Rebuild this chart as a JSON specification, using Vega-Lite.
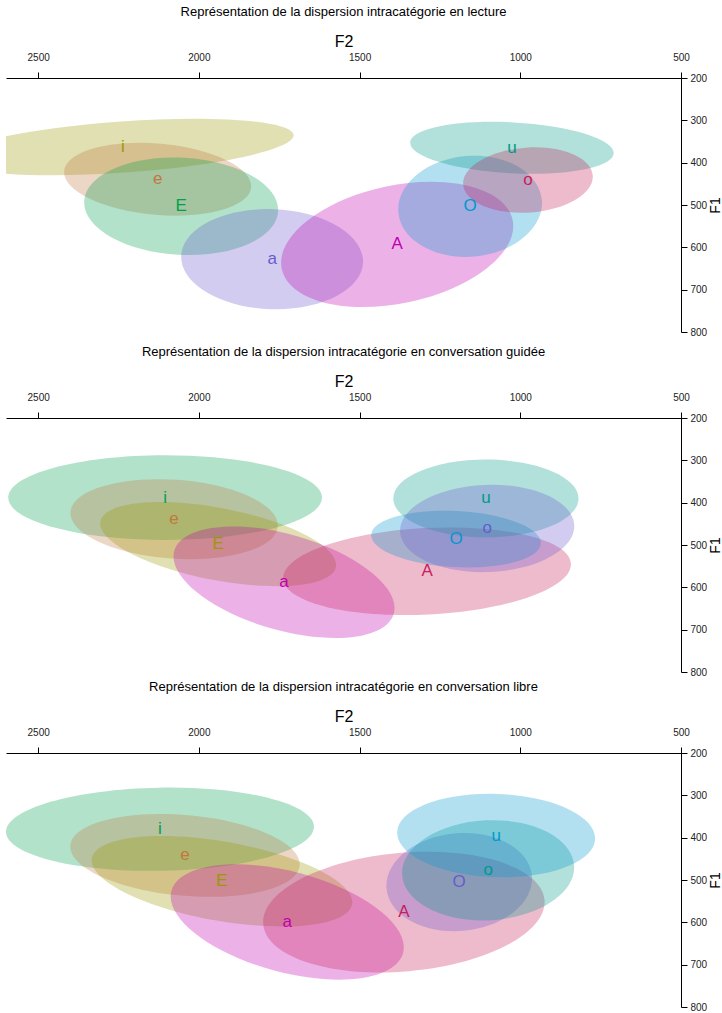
{
  "$schema": "https://vega.github.io/schema/vega-lite/v6.json",
  "background": "white",
  "padding": {"left": 6, "top": 6, "right": 0, "bottom": 0},
  "config": {
    "view": {"stroke": null},
    "font": "Liberation Sans",
    "title": {"fontSize": 13, "fontWeight": "normal", "font": "Liberation Sans", "anchor": "middle", "frame": "group", "offset": 14, "color": "#000"},
    "axis": {"grid": false, "domainColor": "#000", "tickColor": "#000", "labelColor": "#222", "titleColor": "#000", "labelFont": "Liberation Sans", "titleFont": "Liberation Sans", "labelFontSize": 10, "titleFontWeight": "normal", "tickSize": 6, "domainWidth": 1, "tickWidth": 1, "labelFlush": false, "labelOverlap": false, "format": "d"}
  },
  "data": {"values": [
    {"panel": "lecture", "voyelle": "i", "F2": 2236, "F1": 363, "demiAxe": 532, "ratio": 0.15, "angle": -4},
    {"panel": "lecture", "voyelle": "e", "F2": 2128, "F1": 439, "demiAxe": 292, "ratio": 0.38, "angle": 5},
    {"panel": "lecture", "voyelle": "E", "F2": 2055, "F1": 503, "demiAxe": 302, "ratio": 0.5, "angle": 3},
    {"panel": "lecture", "voyelle": "a", "F2": 1772, "F1": 628, "demiAxe": 283, "ratio": 0.55, "angle": 2},
    {"panel": "lecture", "voyelle": "A", "F2": 1383, "F1": 593, "demiAxe": 367, "ratio": 0.5, "angle": -12},
    {"panel": "lecture", "voyelle": "O", "F2": 1156, "F1": 503, "demiAxe": 224, "ratio": 0.7, "angle": -5},
    {"panel": "lecture", "voyelle": "u", "F2": 1026, "F1": 365, "demiAxe": 317, "ratio": 0.25, "angle": 3},
    {"panel": "lecture", "voyelle": "o", "F2": 976, "F1": 441, "demiAxe": 202, "ratio": 0.5, "angle": -4},
    {"panel": "guidee", "voyelle": "i", "F2": 2105, "F1": 388, "demiAxe": 488, "ratio": 0.27, "angle": 0},
    {"panel": "guidee", "voyelle": "e", "F2": 2077, "F1": 439, "demiAxe": 323, "ratio": 0.38, "angle": 4},
    {"panel": "guidee", "voyelle": "E", "F2": 1940, "F1": 498, "demiAxe": 373, "ratio": 0.3, "angle": 11},
    {"panel": "guidee", "voyelle": "a", "F2": 1735, "F1": 588, "demiAxe": 355, "ratio": 0.42, "angle": 16},
    {"panel": "guidee", "voyelle": "A", "F2": 1290, "F1": 562, "demiAxe": 448, "ratio": 0.3, "angle": -3},
    {"panel": "guidee", "voyelle": "O", "F2": 1200, "F1": 486, "demiAxe": 264, "ratio": 0.33, "angle": 3},
    {"panel": "guidee", "voyelle": "u", "F2": 1107, "F1": 390, "demiAxe": 288, "ratio": 0.42, "angle": 0},
    {"panel": "guidee", "voyelle": "o", "F2": 1103, "F1": 461, "demiAxe": 271, "ratio": 0.5, "angle": -2},
    {"panel": "libre", "voyelle": "i", "F2": 2121, "F1": 380, "demiAxe": 479, "ratio": 0.27, "angle": -1},
    {"panel": "libre", "voyelle": "e", "F2": 2043, "F1": 442, "demiAxe": 358, "ratio": 0.35, "angle": 5},
    {"panel": "libre", "voyelle": "E", "F2": 1928, "F1": 503, "demiAxe": 411, "ratio": 0.3, "angle": 10},
    {"panel": "libre", "voyelle": "a", "F2": 1725, "F1": 599, "demiAxe": 373, "ratio": 0.42, "angle": 15},
    {"panel": "libre", "voyelle": "A", "F2": 1362, "F1": 576, "demiAxe": 439, "ratio": 0.42, "angle": -5},
    {"panel": "libre", "voyelle": "O", "F2": 1190, "F1": 505, "demiAxe": 227, "ratio": 0.67, "angle": -5},
    {"panel": "libre", "voyelle": "o", "F2": 1100, "F1": 477, "demiAxe": 268, "ratio": 0.58, "angle": -3},
    {"panel": "libre", "voyelle": "u", "F2": 1075, "F1": 395, "demiAxe": 308, "ratio": 0.42, "angle": 2}
  ]},
  "resolve": {"scale": {"color": "independent"}},
  "spacing": 9,
  "vconcat": [
    {
      "title": "Représentation de la dispersion intracatégorie en lecture",
      "width": 675, "height": 254,
      "transform": [{"filter": "datum.panel === 'lecture'"}],
      "encoding": {
        "x": {"field": "F2", "type": "quantitative", "scale": {"domain": [500, 2600], "reverse": true, "nice": false, "zero": false}, "axis": {"orient": "top", "values": [500, 1000, 1500, 2000, 2500], "title": "F2", "labelPadding": 10, "titlePadding": 3, "titleFontSize": 16}},
        "y": {"field": "F1", "type": "quantitative", "scale": {"domain": [200, 800], "reverse": true, "nice": false, "zero": false}, "axis": {"orient": "right", "values": [200, 300, 400, 500, 600, 700, 800], "title": "F1", "titleAngle": 270, "titleBaseline": "top", "labelPadding": 3, "titlePadding": 2, "titleFontSize": 14}},
        "color": {"field": "voyelle", "type": "nominal", "scale": {"domain": ["i", "e", "E", "a", "A", "O", "u", "o"], "range": ["#999900", "#C07840", "#00A050", "#6A5ACD", "#C000B0", "#0099CC", "#009988", "#C81E5A"]}, "legend": null}
      },
      "layer": [
        {"mark": {"type": "point", "filled": true, "opacity": 1, "fillOpacity": 0.3, "strokeWidth": 0, "clip": true},
         "encoding": {
           "shape": {"field": "ratio", "type": "nominal", "legend": null, "scale": {"domain": [0.15, 0.25, 0.27, 0.3, 0.33, 0.35, 0.38, 0.42, 0.5, 0.55, 0.58, 0.67, 0.7], "range": [
             "M1,0C1,0.0828 0.5523,0.15 0,0.15C-0.5523,0.15 -1,0.0828 -1,0C-1,-0.0828 -0.5523,-0.15 0,-0.15C0.5523,-0.15 1,-0.0828 1,0Z",
             "M1,0C1,0.1381 0.5523,0.25 0,0.25C-0.5523,0.25 -1,0.1381 -1,0C-1,-0.1381 -0.5523,-0.25 0,-0.25C0.5523,-0.25 1,-0.1381 1,0Z",
             "M1,0C1,0.1491 0.5523,0.27 0,0.27C-0.5523,0.27 -1,0.1491 -1,0C-1,-0.1491 -0.5523,-0.27 0,-0.27C0.5523,-0.27 1,-0.1491 1,0Z",
             "M1,0C1,0.1657 0.5523,0.3 0,0.3C-0.5523,0.3 -1,0.1657 -1,0C-1,-0.1657 -0.5523,-0.3 0,-0.3C0.5523,-0.3 1,-0.1657 1,0Z",
             "M1,0C1,0.1823 0.5523,0.33 0,0.33C-0.5523,0.33 -1,0.1823 -1,0C-1,-0.1823 -0.5523,-0.33 0,-0.33C0.5523,-0.33 1,-0.1823 1,0Z",
             "M1,0C1,0.1933 0.5523,0.35 0,0.35C-0.5523,0.35 -1,0.1933 -1,0C-1,-0.1933 -0.5523,-0.35 0,-0.35C0.5523,-0.35 1,-0.1933 1,0Z",
             "M1,0C1,0.2099 0.5523,0.38 0,0.38C-0.5523,0.38 -1,0.2099 -1,0C-1,-0.2099 -0.5523,-0.38 0,-0.38C0.5523,-0.38 1,-0.2099 1,0Z",
             "M1,0C1,0.2320 0.5523,0.42 0,0.42C-0.5523,0.42 -1,0.2320 -1,0C-1,-0.2320 -0.5523,-0.42 0,-0.42C0.5523,-0.42 1,-0.2320 1,0Z",
             "M1,0C1,0.2762 0.5523,0.5 0,0.5C-0.5523,0.5 -1,0.2762 -1,0C-1,-0.2762 -0.5523,-0.5 0,-0.5C0.5523,-0.5 1,-0.2762 1,0Z",
             "M1,0C1,0.3038 0.5523,0.55 0,0.55C-0.5523,0.55 -1,0.3038 -1,0C-1,-0.3038 -0.5523,-0.55 0,-0.55C0.5523,-0.55 1,-0.3038 1,0Z",
             "M1,0C1,0.3203 0.5523,0.58 0,0.58C-0.5523,0.58 -1,0.3203 -1,0C-1,-0.3203 -0.5523,-0.58 0,-0.58C0.5523,-0.58 1,-0.3203 1,0Z",
             "M1,0C1,0.3700 0.5523,0.67 0,0.67C-0.5523,0.67 -1,0.3700 -1,0C-1,-0.3700 -0.5523,-0.67 0,-0.67C0.5523,-0.67 1,-0.3700 1,0Z",
             "M1,0C1,0.3866 0.5523,0.7 0,0.7C-0.5523,0.7 -1,0.3866 -1,0C-1,-0.3866 -0.5523,-0.7 0,-0.7C0.5523,-0.7 1,-0.3866 1,0Z"
           ]}},
           "size": {"field": "demiAxe", "type": "quantitative", "legend": null, "scale": {"type": "pow", "exponent": 2, "domain": [0, 1000], "range": [0, 413449]}},
           "angle": {"field": "angle", "type": "quantitative", "scale": null}
         }},
        {"mark": {"type": "text", "fontSize": 17, "font": "Liberation Sans", "baseline": "middle", "align": "center"},
         "encoding": {"text": {"field": "voyelle"}}}
      ]
    },
    {
      "spacing": 4,
      "resolve": {"scale": {"color": "independent"}},
      "vconcat": [
        {
          "title": "Représentation de la dispersion intracatégorie en conversation guidée",
          "width": 675, "height": 254,
          "transform": [{"filter": "datum.panel === 'guidee'"}],
          "encoding": {
            "x": {"field": "F2", "type": "quantitative", "scale": {"domain": [500, 2600], "reverse": true, "nice": false, "zero": false}, "axis": {"orient": "top", "values": [500, 1000, 1500, 2000, 2500], "title": "F2", "labelPadding": 10, "titlePadding": 3, "titleFontSize": 16}},
            "y": {"field": "F1", "type": "quantitative", "scale": {"domain": [200, 800], "reverse": true, "nice": false, "zero": false}, "axis": {"orient": "right", "values": [200, 300, 400, 500, 600, 700, 800], "title": "F1", "titleAngle": 270, "titleBaseline": "top", "labelPadding": 3, "titlePadding": 2, "titleFontSize": 14}},
            "color": {"field": "voyelle", "type": "nominal", "scale": {"domain": ["i", "e", "E", "a", "A", "O", "u", "o"], "range": ["#00A050", "#C07840", "#999900", "#C000B0", "#C81E5A", "#0099CC", "#009988", "#6A5ACD"]}, "legend": null}
          },
          "layer": [
            {"mark": {"type": "point", "filled": true, "opacity": 1, "fillOpacity": 0.3, "strokeWidth": 0, "clip": true},
             "encoding": {
               "shape": {"field": "ratio", "type": "nominal", "legend": null, "scale": {"domain": [0.15, 0.25, 0.27, 0.3, 0.33, 0.35, 0.38, 0.42, 0.5, 0.55, 0.58, 0.67, 0.7], "range": [
                 "M1,0C1,0.0828 0.5523,0.15 0,0.15C-0.5523,0.15 -1,0.0828 -1,0C-1,-0.0828 -0.5523,-0.15 0,-0.15C0.5523,-0.15 1,-0.0828 1,0Z",
                 "M1,0C1,0.1381 0.5523,0.25 0,0.25C-0.5523,0.25 -1,0.1381 -1,0C-1,-0.1381 -0.5523,-0.25 0,-0.25C0.5523,-0.25 1,-0.1381 1,0Z",
                 "M1,0C1,0.1491 0.5523,0.27 0,0.27C-0.5523,0.27 -1,0.1491 -1,0C-1,-0.1491 -0.5523,-0.27 0,-0.27C0.5523,-0.27 1,-0.1491 1,0Z",
                 "M1,0C1,0.1657 0.5523,0.3 0,0.3C-0.5523,0.3 -1,0.1657 -1,0C-1,-0.1657 -0.5523,-0.3 0,-0.3C0.5523,-0.3 1,-0.1657 1,0Z",
                 "M1,0C1,0.1823 0.5523,0.33 0,0.33C-0.5523,0.33 -1,0.1823 -1,0C-1,-0.1823 -0.5523,-0.33 0,-0.33C0.5523,-0.33 1,-0.1823 1,0Z",
                 "M1,0C1,0.1933 0.5523,0.35 0,0.35C-0.5523,0.35 -1,0.1933 -1,0C-1,-0.1933 -0.5523,-0.35 0,-0.35C0.5523,-0.35 1,-0.1933 1,0Z",
                 "M1,0C1,0.2099 0.5523,0.38 0,0.38C-0.5523,0.38 -1,0.2099 -1,0C-1,-0.2099 -0.5523,-0.38 0,-0.38C0.5523,-0.38 1,-0.2099 1,0Z",
                 "M1,0C1,0.2320 0.5523,0.42 0,0.42C-0.5523,0.42 -1,0.2320 -1,0C-1,-0.2320 -0.5523,-0.42 0,-0.42C0.5523,-0.42 1,-0.2320 1,0Z",
                 "M1,0C1,0.2762 0.5523,0.5 0,0.5C-0.5523,0.5 -1,0.2762 -1,0C-1,-0.2762 -0.5523,-0.5 0,-0.5C0.5523,-0.5 1,-0.2762 1,0Z",
                 "M1,0C1,0.3038 0.5523,0.55 0,0.55C-0.5523,0.55 -1,0.3038 -1,0C-1,-0.3038 -0.5523,-0.55 0,-0.55C0.5523,-0.55 1,-0.3038 1,0Z",
                 "M1,0C1,0.3203 0.5523,0.58 0,0.58C-0.5523,0.58 -1,0.3203 -1,0C-1,-0.3203 -0.5523,-0.58 0,-0.58C0.5523,-0.58 1,-0.3203 1,0Z",
                 "M1,0C1,0.3700 0.5523,0.67 0,0.67C-0.5523,0.67 -1,0.3700 -1,0C-1,-0.3700 -0.5523,-0.67 0,-0.67C0.5523,-0.67 1,-0.3700 1,0Z",
                 "M1,0C1,0.3866 0.5523,0.7 0,0.7C-0.5523,0.7 -1,0.3866 -1,0C-1,-0.3866 -0.5523,-0.7 0,-0.7C0.5523,-0.7 1,-0.3866 1,0Z"
               ]}},
               "size": {"field": "demiAxe", "type": "quantitative", "legend": null, "scale": {"type": "pow", "exponent": 2, "domain": [0, 1000], "range": [0, 413449]}},
               "angle": {"field": "angle", "type": "quantitative", "scale": null}
             }},
            {"mark": {"type": "text", "fontSize": 17, "font": "Liberation Sans", "baseline": "middle", "align": "center"},
             "encoding": {"text": {"field": "voyelle"}}}
          ]
        },
        {
          "title": "Représentation de la dispersion intracatégorie en conversation libre",
          "width": 675, "height": 254,
          "transform": [{"filter": "datum.panel === 'libre'"}],
          "encoding": {
            "x": {"field": "F2", "type": "quantitative", "scale": {"domain": [500, 2600], "reverse": true, "nice": false, "zero": false}, "axis": {"orient": "top", "values": [500, 1000, 1500, 2000, 2500], "title": "F2", "labelPadding": 10, "titlePadding": 3, "titleFontSize": 16}},
            "y": {"field": "F1", "type": "quantitative", "scale": {"domain": [200, 800], "reverse": true, "nice": false, "zero": false}, "axis": {"orient": "right", "values": [200, 300, 400, 500, 600, 700, 800], "title": "F1", "titleAngle": 270, "titleBaseline": "top", "labelPadding": 3, "titlePadding": 2, "titleFontSize": 14}},
            "color": {"field": "voyelle", "type": "nominal", "scale": {"domain": ["i", "e", "E", "a", "A", "O", "u", "o"], "range": ["#00A050", "#C07840", "#999900", "#C000B0", "#C81E5A", "#6A5ACD", "#0099CC", "#009988"]}, "legend": null}
          },
          "layer": [
            {"mark": {"type": "point", "filled": true, "opacity": 1, "fillOpacity": 0.3, "strokeWidth": 0, "clip": true},
             "encoding": {
               "shape": {"field": "ratio", "type": "nominal", "legend": null, "scale": {"domain": [0.15, 0.25, 0.27, 0.3, 0.33, 0.35, 0.38, 0.42, 0.5, 0.55, 0.58, 0.67, 0.7], "range": [
                 "M1,0C1,0.0828 0.5523,0.15 0,0.15C-0.5523,0.15 -1,0.0828 -1,0C-1,-0.0828 -0.5523,-0.15 0,-0.15C0.5523,-0.15 1,-0.0828 1,0Z",
                 "M1,0C1,0.1381 0.5523,0.25 0,0.25C-0.5523,0.25 -1,0.1381 -1,0C-1,-0.1381 -0.5523,-0.25 0,-0.25C0.5523,-0.25 1,-0.1381 1,0Z",
                 "M1,0C1,0.1491 0.5523,0.27 0,0.27C-0.5523,0.27 -1,0.1491 -1,0C-1,-0.1491 -0.5523,-0.27 0,-0.27C0.5523,-0.27 1,-0.1491 1,0Z",
                 "M1,0C1,0.1657 0.5523,0.3 0,0.3C-0.5523,0.3 -1,0.1657 -1,0C-1,-0.1657 -0.5523,-0.3 0,-0.3C0.5523,-0.3 1,-0.1657 1,0Z",
                 "M1,0C1,0.1823 0.5523,0.33 0,0.33C-0.5523,0.33 -1,0.1823 -1,0C-1,-0.1823 -0.5523,-0.33 0,-0.33C0.5523,-0.33 1,-0.1823 1,0Z",
                 "M1,0C1,0.1933 0.5523,0.35 0,0.35C-0.5523,0.35 -1,0.1933 -1,0C-1,-0.1933 -0.5523,-0.35 0,-0.35C0.5523,-0.35 1,-0.1933 1,0Z",
                 "M1,0C1,0.2099 0.5523,0.38 0,0.38C-0.5523,0.38 -1,0.2099 -1,0C-1,-0.2099 -0.5523,-0.38 0,-0.38C0.5523,-0.38 1,-0.2099 1,0Z",
                 "M1,0C1,0.2320 0.5523,0.42 0,0.42C-0.5523,0.42 -1,0.2320 -1,0C-1,-0.2320 -0.5523,-0.42 0,-0.42C0.5523,-0.42 1,-0.2320 1,0Z",
                 "M1,0C1,0.2762 0.5523,0.5 0,0.5C-0.5523,0.5 -1,0.2762 -1,0C-1,-0.2762 -0.5523,-0.5 0,-0.5C0.5523,-0.5 1,-0.2762 1,0Z",
                 "M1,0C1,0.3038 0.5523,0.55 0,0.55C-0.5523,0.55 -1,0.3038 -1,0C-1,-0.3038 -0.5523,-0.55 0,-0.55C0.5523,-0.55 1,-0.3038 1,0Z",
                 "M1,0C1,0.3203 0.5523,0.58 0,0.58C-0.5523,0.58 -1,0.3203 -1,0C-1,-0.3203 -0.5523,-0.58 0,-0.58C0.5523,-0.58 1,-0.3203 1,0Z",
                 "M1,0C1,0.3700 0.5523,0.67 0,0.67C-0.5523,0.67 -1,0.3700 -1,0C-1,-0.3700 -0.5523,-0.67 0,-0.67C0.5523,-0.67 1,-0.3700 1,0Z",
                 "M1,0C1,0.3866 0.5523,0.7 0,0.7C-0.5523,0.7 -1,0.3866 -1,0C-1,-0.3866 -0.5523,-0.7 0,-0.7C0.5523,-0.7 1,-0.3866 1,0Z"
               ]}},
               "size": {"field": "demiAxe", "type": "quantitative", "legend": null, "scale": {"type": "pow", "exponent": 2, "domain": [0, 1000], "range": [0, 413449]}},
               "angle": {"field": "angle", "type": "quantitative", "scale": null}
             }},
            {"mark": {"type": "text", "fontSize": 17, "font": "Liberation Sans", "baseline": "middle", "align": "center"},
             "encoding": {"text": {"field": "voyelle"}}}
          ]
        }
      ]
    }
  ]
}
